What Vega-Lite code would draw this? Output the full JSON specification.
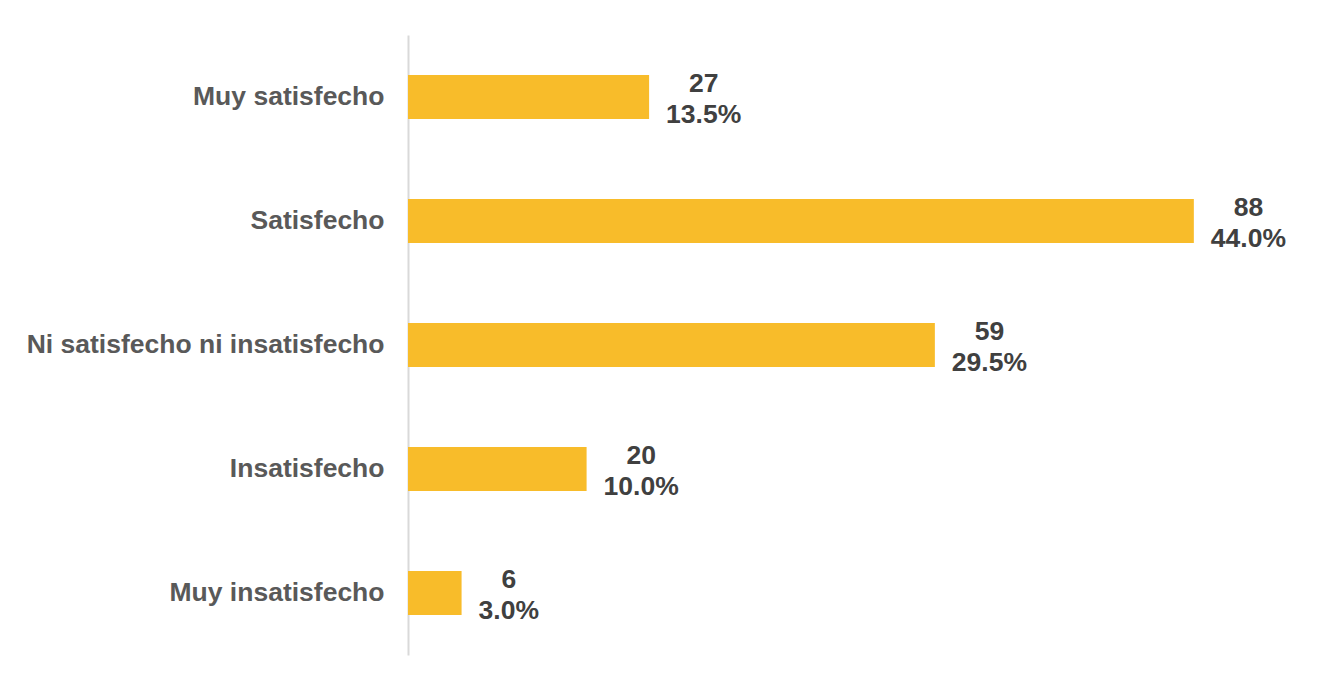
{
  "$schema": "https://vega.github.io/schema/vega-lite/v6.json",
  "autosize": {"type": "none"},
  "width": 893,
  "height": 620,
  "padding": {"left": 408, "top": 35, "right": 27, "bottom": 24},
  "background": "#ffffff",
  "config": {"view": {"stroke": null}, "font": "Liberation Sans"},
  "data": {
    "values": [
      {"cat": "Muy satisfecho", "count": 27, "pct": "13.5%"},
      {"cat": "Satisfecho", "count": 88, "pct": "44.0%"},
      {"cat": "Ni satisfecho ni insatisfecho", "count": 59, "pct": "29.5%"},
      {"cat": "Insatisfecho", "count": 20, "pct": "10.0%"},
      {"cat": "Muy insatisfecho", "count": 6, "pct": "3.0%"}
    ]
  },
  "encoding": {
    "y": {
      "field": "cat",
      "type": "nominal",
      "sort": null,
      "title": null,
      "scale": {"paddingInner": 0.645, "paddingOuter": 0.3225},
      "axis": {
        "ticks": false,
        "tickSize": 0,
        "labelPadding": 24,
        "labelFont": "Liberation Sans",
        "labelFontSize": 26.5,
        "labelFontWeight": "bold",
        "labelColor": "#595959",
        "labelLimit": 500,
        "domainColor": "#d9d9d9",
        "domainWidth": 2,
        "grid": false
      }
    },
    "x": {
      "field": "count",
      "type": "quantitative",
      "scale": {"domain": [0, 100], "nice": false},
      "axis": null
    }
  },
  "layer": [
    {"mark": {"type": "bar", "color": "#F8BC2A"}},
    {
      "mark": {"type": "text", "align": "left", "baseline": "alphabetic", "dx": 40, "dy": -5, "font": "Liberation Sans", "fontSize": 26.5, "fontWeight": "bold", "color": "#404040"},
      "encoding": {"text": {"field": "count", "type": "quantitative"}}
    },
    {
      "mark": {"type": "text", "align": "left", "baseline": "alphabetic", "dx": 17, "dy": 26, "font": "Liberation Sans", "fontSize": 26.5, "fontWeight": "bold", "color": "#404040"},
      "encoding": {"text": {"field": "pct", "type": "nominal"}}
    }
  ]
}
